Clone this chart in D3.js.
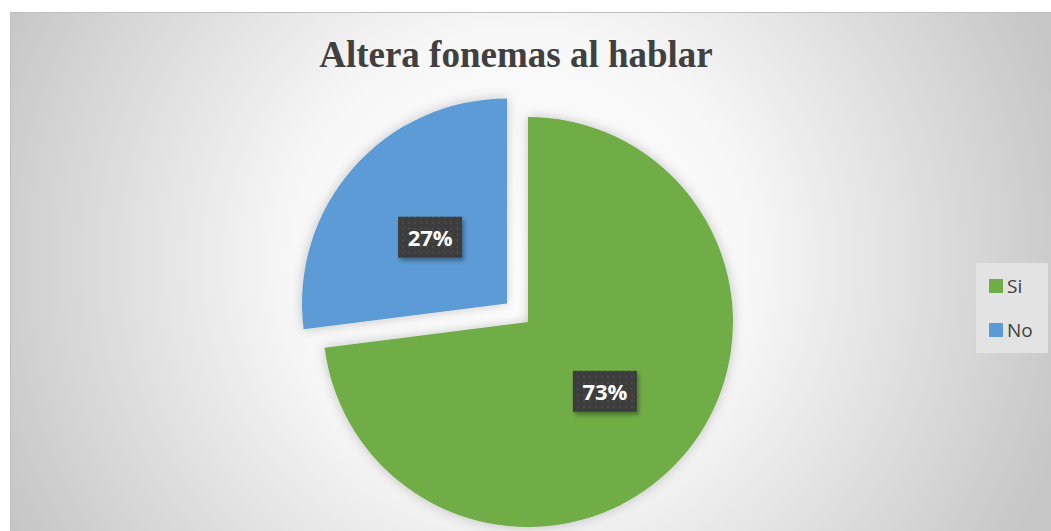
<!DOCTYPE html>
<html>
<head>
<meta charset="utf-8">
<script src="https://cdn.jsdelivr.net/npm/d3@7"></script>
<style>
  body { margin: 0; background: #fff; }
  svg { display: block; }
</style>
</head>
<body>
<div id="chart"></div>
<script>
const categories = ["Si", "No"];
const values = [73, 27];
const colors = ["#70ad47", "#5b9bd5"];
const title = "Altera fonemas al hablar";

const W = 1051, H = 531;
const svg = d3.select("#chart").append("svg")
    .attr("width", W)
    .attr("height", H);

const defs = svg.append("defs");

// radial background like the Excel preset
const grad = defs.append("radialGradient")
    .attr("id", "bg")
    .attr("gradientUnits", "userSpaceOnUse")
    .attr("cx", 520).attr("cy", 260).attr("r", 570);
grad.append("stop").attr("offset", "0%").attr("stop-color", "#ffffff");
grad.append("stop").attr("offset", "40%").attr("stop-color", "#f7f7f7");
grad.append("stop").attr("offset", "100%").attr("stop-color", "#c6c6c6");

const shadow = defs.append("filter")
    .attr("id", "shadow")
    .attr("x", "-20%").attr("y", "-20%")
    .attr("width", "140%").attr("height", "140%");
shadow.append("feDropShadow")
    .attr("dx", 0).attr("dy", 0)
    .attr("stdDeviation", 6)
    .attr("flood-color", "#000")
    .attr("flood-opacity", 0.22);

const lblShadow = defs.append("filter")
    .attr("id", "lblshadow")
    .attr("x", "-30%").attr("y", "-30%")
    .attr("width", "160%").attr("height", "170%");
lblShadow.append("feDropShadow")
    .attr("dx", 2).attr("dy", 3)
    .attr("stdDeviation", 2)
    .attr("flood-color", "#000")
    .attr("flood-opacity", 0.35);

// dotted texture of the label boxes
const pat = defs.append("pattern")
    .attr("id", "dots")
    .attr("patternUnits", "userSpaceOnUse")
    .attr("width", 6).attr("height", 6);
pat.append("rect").attr("width", 6).attr("height", 6).attr("fill", "#3c3c3c");
pat.append("rect").attr("x", 2).attr("y", 2).attr("width", 2).attr("height", 2).attr("fill", "#4c4c4c");

svg.append("rect")
    .attr("x", 10.5).attr("y", 12.5)
    .attr("width", W).attr("height", H)
    .attr("fill", "url(#bg)")
    .attr("stroke", "#bfbfbf")
    .attr("stroke-width", 1);

svg.append("text")
    .attr("x", 516)
    .attr("y", 67)
    .attr("text-anchor", "middle")
    .style("font-family", "'Liberation Serif', 'Times New Roman', serif")
    .style("font-weight", "bold")
    .style("font-size", "37px")
    .style("fill", "#404040")
    .text(title);

// pie
const cx = 528, cy = 322, r = 205, explode = 28;
const data = categories.map((c, i) => ({ name: c, value: values[i], color: colors[i] }));
const pie = d3.pie().sort(null).value(d => d.value);
const arc = d3.arc().innerRadius(0).outerRadius(r);
const arcs = pie(data);
const total = d3.sum(values);

const g = svg.append("g").attr("transform", `translate(${cx},${cy})`);

function offset(d) {
    if (d.data.name !== "No") return [0, 0];
    const a = (d.startAngle + d.endAngle) / 2;
    return [Math.sin(a) * explode, -Math.cos(a) * explode];
}

g.selectAll("path")
    .data(arcs)
    .enter()
    .append("path")
    .attr("d", arc)
    .attr("transform", d => `translate(${offset(d)})`)
    .attr("fill", d => d.data.color)
    .attr("filter", "url(#shadow)");

const labels = g.selectAll("g.lbl")
    .data(arcs)
    .enter()
    .append("g")
    .attr("class", "lbl")
    .attr("transform", d => {
        const c = arc.centroid(d), o = offset(d);
        return `translate(${c[0] + o[0]},${c[1] + o[1] + 2})`;
    });

labels.append("rect")
    .attr("x", -32).attr("y", -21)
    .attr("width", 64).attr("height", 41)
    .attr("fill", "url(#dots)")
    .attr("filter", "url(#lblshadow)");

labels.append("text")
    .attr("text-anchor", "middle")
    .attr("dy", "0.36em")
    .style("font-family", "'Open Sans', Lato, sans-serif")
    .style("font-weight", "bold")
    .style("font-size", "22px")
    .style("fill", "#ffffff")
    .text(d => Math.round(d.data.value / total * 100) + "%");

// legend
const legend = svg.append("g").attr("transform", "translate(976,263)");
legend.append("rect")
    .attr("width", 72).attr("height", 90)
    .attr("fill", "#e3e3e3");

const item = legend.selectAll("g.item")
    .data(data)
    .enter()
    .append("g")
    .attr("class", "item")
    .attr("transform", (d, i) => `translate(13,${23 + i * 44})`);

item.append("rect")
    .attr("y", -7)
    .attr("width", 14).attr("height", 14)
    .attr("fill", d => d.color);

item.append("text")
    .attr("x", 18)
    .attr("dy", "0.36em")
    .style("font-family", "'Open Sans', Lato, sans-serif")
    .style("font-size", "19px")
    .style("fill", "#404040")
    .text(d => d.name);
</script>
</body>
</html>
